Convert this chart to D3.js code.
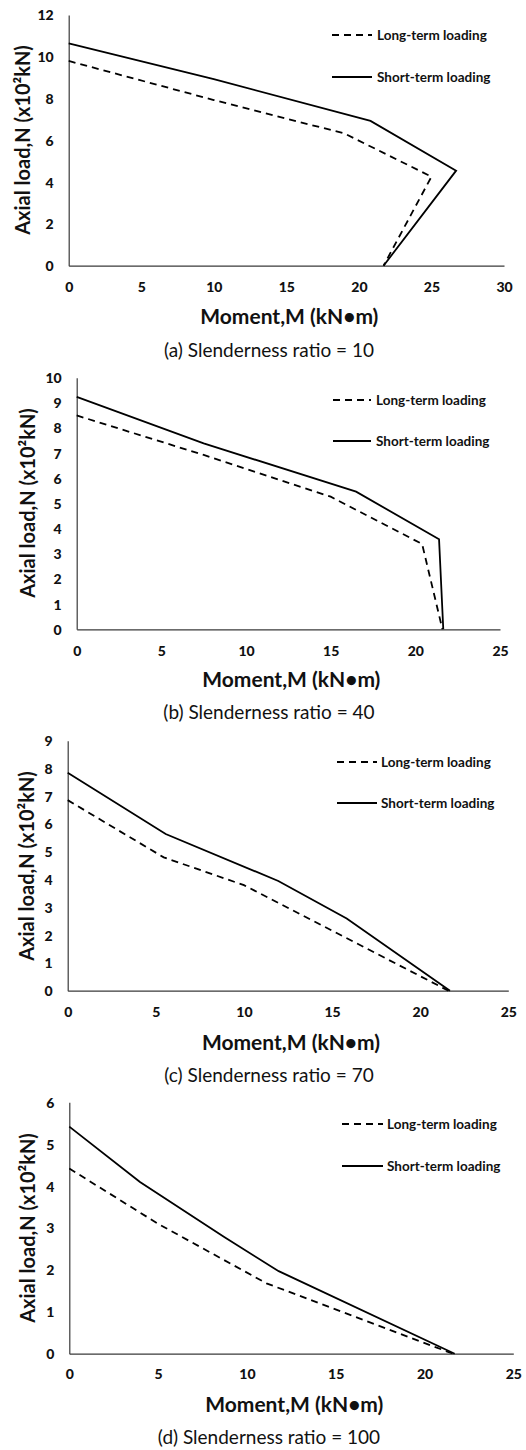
<!DOCTYPE html>
<html>
<head>
<meta charset="utf-8">
<script src="https://cdn.jsdelivr.net/npm/d3@7"></script>
<style>
  html, body { margin: 0; padding: 0; background: #fff; }
  svg { display: block; }
</style>
</head>
<body>
<svg id="chart" width="526" height="1450"></svg>
<script>
// ---------- data ----------
const captions = ["(a) Slenderness ratio = 10", "(b) Slenderness ratio = 40", "(c) Slenderness ratio = 70", "(d) Slenderness ratio = 100"];
const seriesNames = ["Long-term loading", "Short-term loading"];
const xTitle = "Moment,M (kN\u2022m)";
const yTitle = "Axial load,N (x10\u00B2kN)";

// panel (a) slenderness 10
const longA_M  = [0, 10, 19.0, 25.0, 21.7];
const longA_N  = [9.8, 7.93, 6.33, 4.26, 0];
const shortA_M = [0, 10, 20.8, 26.7, 21.7];
const shortA_N = [10.64, 8.93, 6.93, 4.55, 0];
const xTicksA = [0, 5, 10, 15, 20, 25, 30];
const yTicksA = [0, 2, 4, 6, 8, 10, 12];

// panel (b) slenderness 40
const longB_M  = [0, 7.5, 15.0, 20.4, 21.6];
const longB_N  = [8.5, 6.93, 5.27, 3.39, 0];
const shortB_M = [0, 7.5, 16.5, 21.4, 21.65];
const shortB_N = [9.24, 7.39, 5.47, 3.58, 0];
const xTicksB = [0, 5, 10, 15, 20, 25];
const yTicksB = [0, 1, 2, 3, 4, 5, 6, 7, 8, 9, 10];

// panel (c) slenderness 70
const longC_M  = [0, 5.45, 10.0, 21.6];
const longC_N  = [6.86, 4.8, 3.8, 0];
const shortC_M = [0, 5.56, 11.95, 15.83, 21.69];
const shortC_N = [7.85, 5.64, 3.95, 2.6, 0];
const xTicksC = [0, 5, 10, 15, 20, 25];
const yTicksC = [0, 1, 2, 3, 4, 5, 6, 7, 8, 9];

// panel (d) slenderness 100
const longD_M  = [0, 5.0, 11.1, 21.6];
const longD_N  = [4.42, 3.1, 1.68, 0];
const shortD_M = [0, 3.98, 8.7, 11.79, 21.7];
const shortD_N = [5.42, 4.1, 2.79, 1.97, 0];
const xTicksD = [0, 5, 10, 15, 20, 25];
const yTicksD = [0, 1, 2, 3, 4, 5, 6];

// ---------- layout ----------
const panels = [
  { long: [longA_M, longA_N], short: [shortA_M, shortA_N], xt: xTicksA, yt: yTicksA,
    x0: 68.7, x1: 504, yTop: 15, yBot: 265.7, tickY: 287, titleY: 317, capY: 350,
    legY: [35, 77], legX: [332, 372, 377], yTitleX: 23, yTitleY: 140 },
  { long: [longB_M, longB_N], short: [shortB_M, shortB_N], xt: xTicksB, yt: yTicksB,
    x0: 76.7, x1: 500, yTop: 377.7, yBot: 629.3, tickY: 650.7, titleY: 680, capY: 712,
    legY: [400, 441], legX: [333, 371, 376], yTitleX: 28, yTitleY: 503 },
  { long: [longC_M, longC_N], short: [shortC_M, shortC_N], xt: xTicksC, yt: yTicksC,
    x0: 67.7, x1: 508.3, yTop: 740.7, yBot: 990.7, tickY: 1011.7, titleY: 1043, capY: 1075,
    legY: [762, 803], legX: [337, 377, 381], yTitleX: 27, yTitleY: 866 },
  { long: [longD_M, longD_N], short: [shortD_M, shortD_N], xt: xTicksD, yt: yTicksD,
    x0: 69.3, x1: 513.3, yTop: 1102.3, yBot: 1353.7, tickY: 1374, titleY: 1405, capY: 1437,
    legY: [1124, 1166], legX: [342, 383, 387], yTitleX: 28, yTitleY: 1228 }
];

const FONT = "Lato, 'Noto Sans', sans-serif";
const svg = d3.select("#chart");
const AX = "#3a3a3a";
const fmt = d3.format("d");

panels.forEach((p, i) => {
  const xs = d3.scaleLinear().domain([p.xt[0], p.xt[p.xt.length - 1]]).range([p.x0, p.x1]);
  const ys = d3.scaleLinear().domain([p.yt[0], p.yt[p.yt.length - 1]]).range([p.yBot, p.yTop]);
  const g = svg.append("g");

  const xAxis = d3.axisBottom(xs).tickValues(p.xt).tickFormat(fmt).tickSize(0).tickPadding(0);
  const xg = g.append("g").attr("transform", `translate(0,${p.yBot})`).call(xAxis);
  xg.select(".domain").attr("stroke", AX).attr("stroke-width", 1.2);
  xg.selectAll("text").attr("y", p.tickY - p.yBot).attr("dy", "0.35em")
    .attr("font-family", FONT).attr("font-weight", 900).attr("font-size", 14).attr("fill", "#111");

  const yAxis = d3.axisLeft(ys).tickValues(p.yt).tickFormat(fmt).tickSize(0).tickPadding(15);
  const yg = g.append("g").attr("transform", `translate(${p.x0},0)`).call(yAxis);
  yg.select(".domain").attr("stroke", AX).attr("stroke-width", 1.2);
  yg.selectAll("text").attr("dy", "0.35em")
    .attr("font-family", FONT).attr("font-weight", 900).attr("font-size", 14).attr("fill", "#111");

  const line = d3.line().x(d => xs(d[0])).y(d => ys(d[1]));
  const toPts = s => s[0].map((m, k) => [m, s[1][k]]);

  g.append("path").datum(toPts(p.long)).attr("d", line)
    .attr("fill", "none").attr("stroke", "#000").attr("stroke-width", 1.8)
    .attr("stroke-dasharray", "7,5");
  g.append("path").datum(toPts(p.short)).attr("d", line)
    .attr("fill", "none").attr("stroke", "#000").attr("stroke-width", 1.8);

  seriesNames.forEach((name, k) => {
    g.append("line").attr("x1", p.legX[0]).attr("x2", p.legX[1])
      .attr("y1", p.legY[k]).attr("y2", p.legY[k])
      .attr("stroke", "#000").attr("stroke-width", 1.8)
      .attr("stroke-dasharray", k === 0 ? "7,5" : null);
    g.append("text").attr("x", p.legX[2]).attr("y", p.legY[k]).attr("dy", "0.35em")
      .attr("font-family", FONT).attr("font-weight", "bold").attr("font-size", 13.5)
      .attr("fill", "#111").text(name);
  });

  g.append("text").attr("x", (p.x0 + p.x1) / 2 + 3).attr("y", p.titleY).attr("dy", "0.35em")
    .attr("text-anchor", "middle").attr("font-family", FONT).attr("font-weight", "bold")
    .attr("font-size", 21).attr("fill", "#111").text(xTitle);
  g.append("text").attr("transform", `translate(${p.yTitleX},${p.yTitleY}) rotate(-90)`)
    .attr("dy", "0.35em").attr("text-anchor", "middle").attr("font-family", FONT)
    .attr("font-weight", "bold").attr("font-size", 20).attr("fill", "#111").text(yTitle);

  g.append("text").attr("x", 269).attr("y", p.capY).attr("dy", "0.35em")
    .attr("text-anchor", "middle").attr("font-family", FONT)
    .attr("font-size", 19).attr("fill", "#111").text(captions[i]);
});
</script>
</body>
</html>
